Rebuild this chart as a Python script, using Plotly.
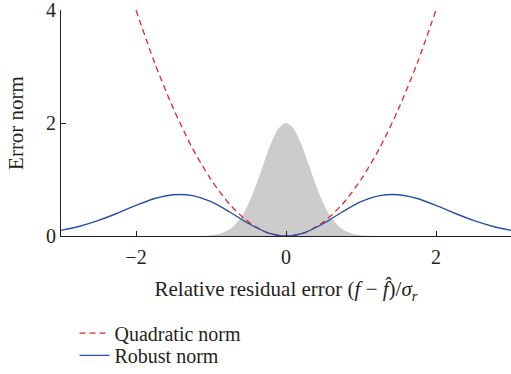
import plotly.graph_objects as go

# Values
curve_x = [-3.0, -2.75, -2.5, -2.25, -2.0, -1.75, -1.5, -1.25, -1.0, -0.75, -0.5, -0.25,
           0.0, 0.25, 0.5, 0.75, 1.0, 1.25, 1.5, 1.75, 2.0, 2.25, 2.5, 2.75, 3.0]
robust_y = [0.100, 0.172, 0.275, 0.403, 0.541, 0.663, 0.731, 0.715, 0.607, 0.425, 0.221, 0.061,
            0.0, 0.061, 0.221, 0.425, 0.607, 0.715, 0.731, 0.663, 0.541, 0.403, 0.275, 0.172, 0.100]

quad_x = [-2.0, -1.75, -1.5, -1.25, -1.0, -0.75, -0.5, -0.25, 0.0,
          0.25, 0.5, 0.75, 1.0, 1.25, 1.5, 1.75, 2.0]
quad_y = [4.0, 3.06, 2.25, 1.56, 1.0, 0.56, 0.25, 0.06, 0.0,
          0.06, 0.25, 0.56, 1.0, 1.56, 2.25, 3.06, 4.0]

dist_x = [-1.5, -1.3, -1.2, -1.1, -1.0, -0.9, -0.8, -0.7, -0.6, -0.5, -0.4, -0.3, -0.2, -0.1,
          0.0, 0.1, 0.2, 0.3, 0.4, 0.5, 0.6, 0.7, 0.8, 0.9, 1.0, 1.1, 1.2, 1.3, 1.5]
dist_y = [0.0, 0.0004, 0.0015, 0.0047, 0.0135, 0.035, 0.082, 0.173, 0.331, 0.573, 0.899, 1.275, 1.637, 1.902,
          2.0, 1.902, 1.637, 1.275, 0.899, 0.573, 0.331, 0.173, 0.082, 0.035, 0.0135, 0.0047, 0.0015, 0.0004, 0.0]

x_ticks = [-2, 0, 2]
x_tick_labels = ["\u22122", "0", "2"]
y_ticks = [0, 2, 4]
y_tick_labels = ["0", "2", "4"]

FONT = "Liberation Serif"
INK = "#231f20"

fig = go.Figure()
fig.add_trace(go.Scatter(x=dist_x, y=dist_y, mode="lines", line=dict(width=0, shape="spline", smoothing=0.8),
                         fill="tozeroy", fillcolor="#cccccc", showlegend=False, hoverinfo="skip"))
fig.add_trace(go.Scatter(x=quad_x, y=quad_y, mode="lines", name="Quadratic norm", legend="legend",
                         line=dict(color="#e8262b", width=1.3, dash="6px,4px", shape="spline", smoothing=0.8)))
fig.add_trace(go.Scatter(x=curve_x, y=robust_y, mode="lines", name="Robust norm", legend="legend2",
                         line=dict(color="#2a4fa8", width=1.4, shape="spline", smoothing=0.8)))

leg_common = dict(x=0.03, xanchor="left", yanchor="middle", bgcolor="rgba(0,0,0,0)",
                  font=dict(family=FONT, size=20, color=INK), itemwidth=30)

fig.update_layout(
    width=511, height=374,
    margin=dict(l=61, r=0, t=10, b=138, autoexpand=False),
    paper_bgcolor="white", plot_bgcolor="white",
    font=dict(family=FONT, size=20, color=INK),
    legend=dict(y=-0.43, **leg_common),
    legend2=dict(y=-0.528, **leg_common),
    xaxis=dict(range=[-3, 3], tickvals=x_ticks, ticktext=x_tick_labels, ticks="inside", ticklen=5,
               tickcolor=INK, showline=True, linecolor=INK, linewidth=1.2, automargin=False,
               showgrid=False, zeroline=False, mirror=False, tickfont=dict(size=20),
               ticklabeloverflow="allow", ticklabelstandoff=3,
               title=dict(text="Relative residual error (<i>f</i> \u2212 <i>f\u0302</i>)/<i>\u03c3<sub>r</sub></i>",
                          standoff=14, font=dict(family=FONT, size=21))),
    yaxis=dict(range=[0, 4], tickvals=y_ticks, ticktext=y_tick_labels, ticks="inside", ticklen=5,
               tickcolor=INK, showline=True, linecolor=INK, linewidth=1.2, automargin=False,
               showgrid=False, zeroline=False, mirror=False, tickfont=dict(size=20),
               ticklabeloverflow="allow",
               title=dict(text="Error norm", standoff=16, font=dict(family=FONT, size=21))),
)

fig.write_html("out.html", config={"displayModeBar": False},
               post_script="document.body.style.margin='0';document.body.style.padding='0';")
